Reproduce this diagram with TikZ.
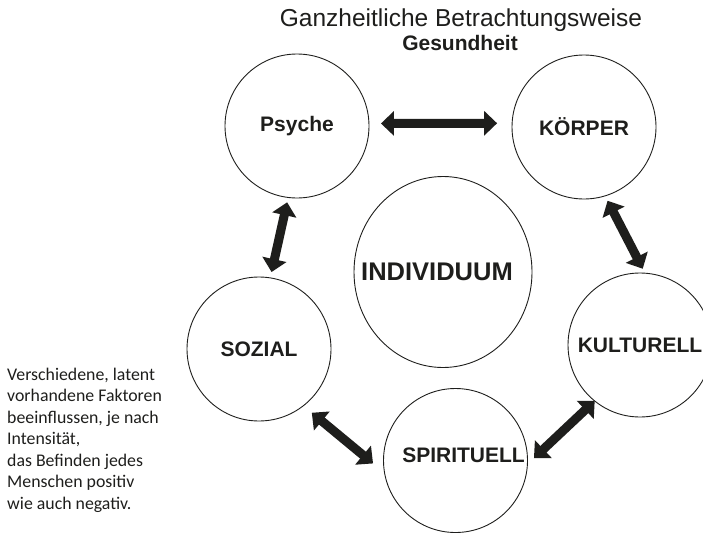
\documentclass[tikz,border=0pt]{standalone}
\usepackage{fontspec}
\setmainfont{Liberation Sans}
\newfontfamily\notefont{Carlito}
\usetikzlibrary{arrows.meta,shapes.geometric,positioning}

\definecolor{ink}{RGB}{30,30,28}

\begin{document}
\begin{tikzpicture}[
    x=1pt, y=-1pt,
    factor/.style={circle, draw=ink, line width=0.9pt, minimum size=144pt, inner sep=0pt, outer sep=0pt, text=ink, font=\fontsize{21}{24}\selectfont\bfseries},
    core/.style={ellipse, draw=ink, line width=0.9pt, minimum width=178pt, minimum height=191pt, inner sep=0pt, outer sep=0pt},
    dblarrow/.style={draw=ink, line width=9pt, {Triangle[width=24pt,length=13pt]}-{Triangle[width=24pt,length=13pt]}}
]
\useasboundingbox (0,0) rectangle (703,535);

% Title
\node[anchor=base, text=ink, font=\fontsize{24.5}{28}\selectfont] at (461,27) (title) {Ganzheitliche Betrachtungsweise};
\node[anchor=base, text=ink, font=\fontsize{21}{24}\selectfont\bfseries] at (460,50) (subtitle) {Gesundheit};

% Factors
\node[factor] at (297,126) (psyche) {Psyche};
\node[factor] at (584,127) (koerper) {KÖRPER};
\node[factor] at (259,349) (sozial) {SOZIAL};
\node[factor] at (640,345) (kulturell) {KULTURELL};
\node[factor, label={[xshift=8pt, yshift=5pt, text=ink, font=\fontsize{21}{24}\selectfont\bfseries]center:SPIRITUELL}] at (455.5,460.5) (spirituell) {};

% Individual in the middle
\node[core, label={[xshift=-6pt, text=ink, font=\fontsize{25.5}{28}\selectfont\bfseries]center:INDIVIDUUM}] at (443,272) (individuum) {};

% Arrows
\draw[dblarrow, shorten <=12pt, shorten >=15pt] (psyche.2) -- (koerper.177);
\draw[dblarrow, shorten <=5pt, shorten >=6pt] (psyche.-97.5) -- (sozial.81);
\draw[dblarrow, shorten <=5.5pt, shorten >=5pt] (koerper.-73) -- (kulturell.86);
\draw[dblarrow, shorten <=11pt, shorten >=15pt] (sozial.-52.3) -- (spirituell.190.9);
\draw[dblarrow, shorten <=9pt, shorten >=0pt] (spirituell.-3.2) -- (kulturell.231.7);

% Note
\node[anchor=north west, align=left, inner sep=0pt, text=ink, font=\notefont\fontsize{17.8}{21.5}\selectfont] at (7,367.5) (note) {Verschiedene, latent\\vorhandene Faktoren\\beeinflussen, je nach\\Intensität,\\das Befinden jedes\\Menschen positiv\\wie auch negativ.};

\end{tikzpicture}
\end{document}
